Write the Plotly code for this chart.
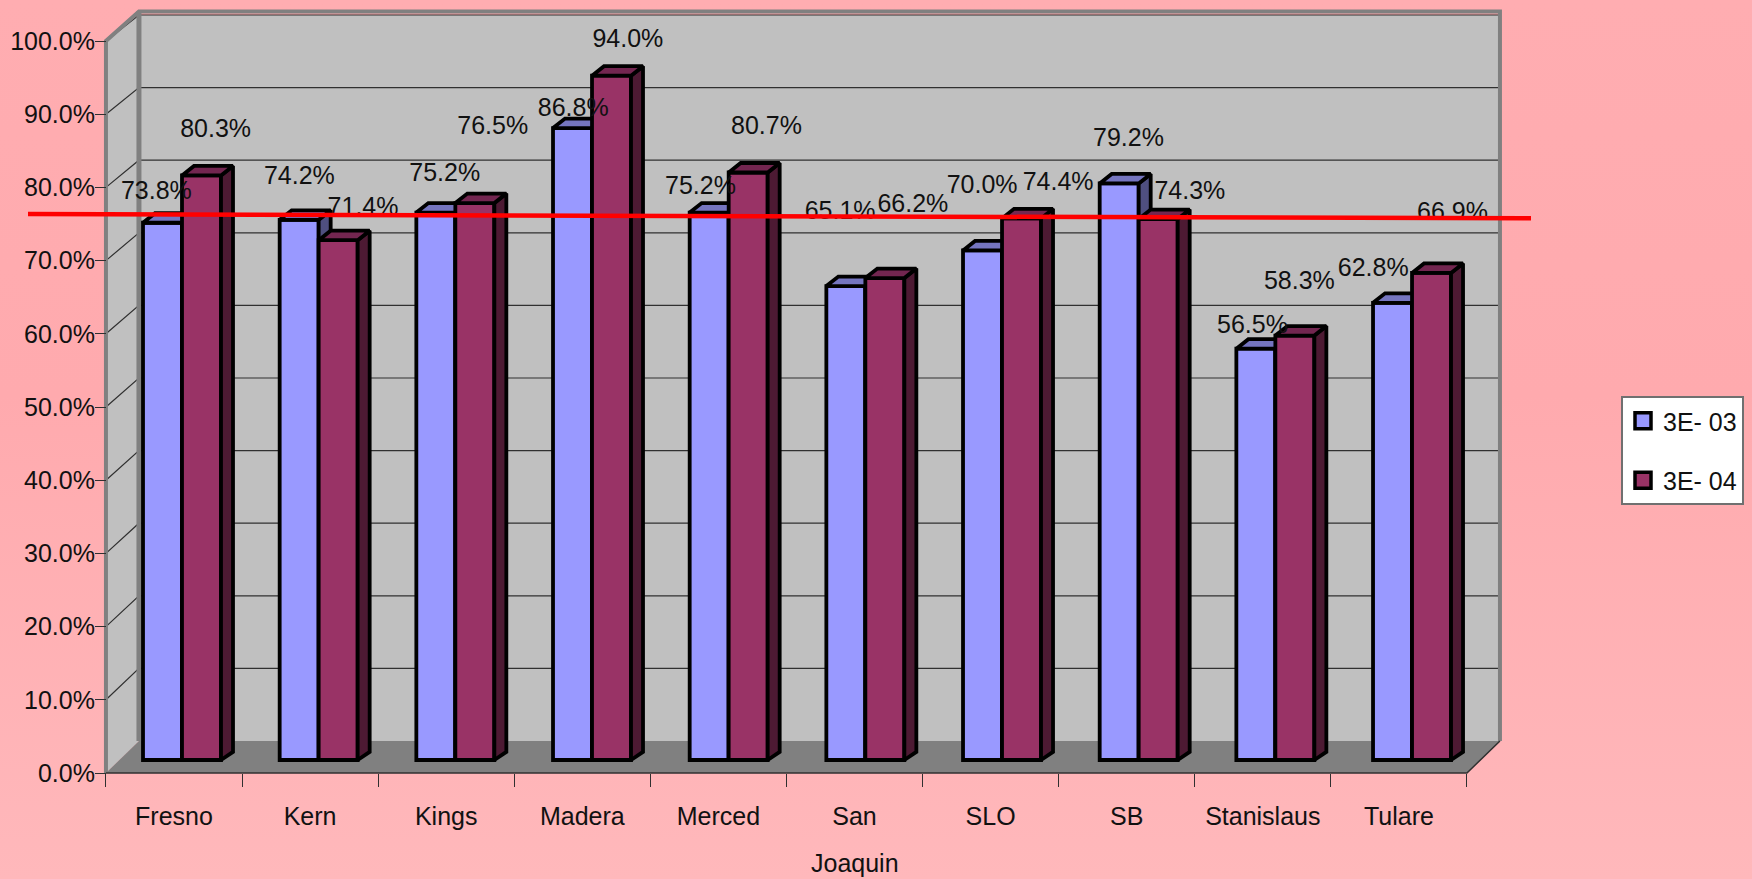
import plotly.graph_objects as go

categories = ["Fresno", "Kern", "Kings", "Madera", "Merced", "San", "SLO", "SB", "Stanislaus", "Tulare"]
series_03 = [73.8, 74.2, 75.2, 86.8, 75.2, 65.1, 70.0, 79.2, 56.5, 62.8]
series_04 = [80.3, 71.4, 76.5, 94.0, 80.7, 66.2, 74.4, 74.3, 58.3, 66.9]
target_line = [75.0, 74.4]
y_ticks = [0, 10, 20, 30, 40, 50, 60, 70, 80, 90, 100]

# label offsets from the group centre / bar top, in pixels
label_dx_03 = [-25.6, -19.3, -10.6, -18.8, -28.2, -25.2, -19.9, -10.2, -22.9, -38.8]
label_dy_03 = [33.9, 45.5, 41.5, 22, 28.1, 77.2, 67.2, 47.1, 25.8, 36.9]
label_dx_04 = [33.6, 44.4, 37.4, 35.9, 37.8, 47.5, 56.1, 51.2, 24, 40.5]
label_dy_04 = [48, 34.6, 79, 38.8, 48.5, 75.9, 38.5, 30.3, 56.3, 63]
LABEL_NUDGE = -3.5

W, H = 1752, 879
FONT = "Liberation Sans, Arial, sans-serif"
FS = 25

# main (frame) axes: category scale and percent scale of the front plane
FX, FY = 136.1, 7.32          # px per category, px per percent
X0PX, Y0PX = 174.0, 773.0     # px of category 0 and of 0 %
main_x = [(0 - X0PX) / FX, (W - X0PX) / FX]
main_y = [(Y0PX - H) / FY, Y0PX / FY]
# bar axes: bars stand on the raised floor row
BX, BY = 136.67, 7.28
BX0, BY0 = 182.0, 760.0
bar_x = [(0 - BX0) / BX, (W - BX0) / BX]
bar_y = [(BY0 - H) / BY, BY0 / BY]

DX = 33 / FX                  # depth of the walls
def back_y(t):
    return (Y0PX - (741 - 7.26 * t)) / FY
XL, XR = -0.5, 9.5
XBL, XBR = XL + DX, XR + DX
TOP = 100

fig = go.Figure()
NOH = dict(hoverinfo="skip", showlegend=False)

# page background
fig.add_trace(go.Scatter(x=[main_x[0], main_x[1], main_x[1], main_x[0], main_x[0]],
                         y=[main_y[0], main_y[0], main_y[1], main_y[1], main_y[0]],
                         mode="none", fill="toself",
                         fillgradient=dict(type="vertical", colorscale=[[0, "#FFB8BB"], [0.55, "#FFAAAE"], [1, "#FFADB1"]]),
                         **NOH))
# walls and floor
fig.add_trace(go.Scatter(x=[XBL, XBR, XBR, XBL, XBL], y=[back_y(0), back_y(0), back_y(TOP), back_y(TOP), back_y(0)],
                         mode="none", fill="toself", fillcolor="#C0C0C0", **NOH))
fig.add_trace(go.Scatter(x=[XL, XBL, XBL, XL, XL], y=[0, back_y(0), back_y(TOP), TOP, 0],
                         mode="none", fill="toself", fillcolor="#C0C0C0", **NOH))
fig.add_trace(go.Scatter(x=[XL, XR, XBR, XBL, XL], y=[0, 0, back_y(0), back_y(0), 0],
                         mode="none", fill="toself", fillcolor="#808080", **NOH))
# gridlines
gx, gy = [], []
for t in y_ticks[1:]:
    gx += [XL, XBL, XBR, None]
    gy += [t, back_y(t), back_y(t), None]
fig.add_trace(go.Scatter(x=gx, y=gy, mode="lines", line=dict(color="#303030", width=1.2), **NOH))
# frame edges
top_edge = back_y(TOP) + 3.5 / FY
fig.add_trace(go.Scatter(x=[XL, XL, XBL, XBR, XBR], y=[0, TOP, top_edge, top_edge, back_y(0)],
                         mode="lines", line=dict(color="#808080", width=4), **NOH))
fig.add_trace(go.Scatter(x=[XBL, XBL], y=[back_y(0), top_edge], mode="lines", line=dict(color="#808080", width=5), **NOH))
fig.add_trace(go.Scatter(x=[XL, XR, XBR], y=[0, 0, back_y(0)], mode="lines", line=dict(color="#303030", width=1.5), **NOH))

BW = 39 / BX
SX = 12 / BX
SY = 9.5 / BY
EDGE = 3.8

def faces(vals, left):
    tx, ty, sx, sy = [], [], [], []
    for i, v in enumerate(vals):
        a, b = i + left, i + left + BW
        tx += [a, a + SX, b + SX, b, a, None]
        ty += [v, v + SY, v + SY, v, v, None]
        sx += [b, b + SX, b + SX, b, b, None]
        sy += [0, SY * 0.85, v + SY, v, 0, None]
    return tx, ty, sx, sy

for name, vals, left, front, top, side, xa, ya in [
    ("3E- 03", series_03, -BW, "#9999FF", "#7575C0", "#4F4F80", "x2", "y2"),
    ("3E- 04", series_04, 0.0, "#993366", "#732650", "#4D1A33", "x3", "y3"),
]:
    fig.add_trace(go.Bar(x=list(range(len(categories))), y=vals, name=name, width=BW, offset=left,
                         marker=dict(color=front, line=dict(color="black", width=EDGE)),
                         xaxis=xa, yaxis=ya, legendgroup=name, showlegend=False,
                         customdata=categories, hovertemplate="%{customdata}: %{y:.1f}%<extra>" + name + "</extra>"))
    tx, ty, sx, sy = faces(vals, left)
    fig.add_trace(go.Scatter(x=sx, y=sy, mode="lines", fill="toself", fillcolor=side,
                             line=dict(color="black", width=EDGE), xaxis=xa, yaxis=ya, **NOH))
    fig.add_trace(go.Scatter(x=tx, y=ty, mode="lines", fill="toself", fillcolor=top,
                             line=dict(color="black", width=EDGE), xaxis=xa, yaxis=ya, **NOH))
    # legend key, same colours as the bars, at the reference's larger key size
    fig.add_trace(go.Scatter(x=[None], y=[None], name=name, mode="markers", legendgroup=name,
                             marker=dict(symbol="square", size=16, color=front, line=dict(color="black", width=3.5)),
                             xaxis=xa, yaxis=ya, hoverinfo="skip"))

# data labels
for vals, dxs, dys in [(series_03, label_dx_03, label_dy_03), (series_04, label_dx_04, label_dy_04)]:
    fig.add_trace(go.Scatter(x=[i + d / BX for i, d in enumerate(dxs)],
                             y=[v + (d + LABEL_NUDGE) / BY for v, d in zip(vals, dys)],
                             text=[f"{v:.1f}%" for v in vals], mode="text", textposition="middle center",
                             textfont=dict(family=FONT, size=FS, color="#111111"), cliponaxis=False,
                             xaxis="x3", yaxis="y3", **NOH))
# target line
fig.add_trace(go.Scatter(x=[(28 - BX0) / BX, (1531 - BX0) / BX], y=target_line, mode="lines",
                         line=dict(color="#FF0000", width=4.5), xaxis="x3", yaxis="y3", **NOH))

hidden = dict(visible=False, fixedrange=True)
fig.update_layout(
    width=W, height=H, autosize=False,
    margin=dict(l=0, r=0, t=0, b=0, pad=0),
    paper_bgcolor="#FFB0B4", plot_bgcolor="rgba(0,0,0,0)",
    barmode="overlay", showlegend=True,
    font=dict(family=FONT, size=FS, color="#111111"),
    xaxis=dict(range=main_x, anchor="free", position=(H - Y0PX) / H, showgrid=False, zeroline=False, showline=False,
               tickmode="array", tickvals=list(range(len(categories))), ticktext=categories, tickangle=0,
               ticks="outside", ticklen=21, tickcolor="rgba(0,0,0,0)",
               minor=dict(tickmode="array", tickvals=[i - 0.5 for i in range(len(categories) + 1)], ticks="outside",
                          ticklen=13, tickwidth=1.2, tickcolor="#303030", showgrid=False),
               tickfont=dict(family=FONT, size=FS, color="#111111"), fixedrange=True),
    yaxis=dict(range=main_y, anchor="free", position=(X0PX - 0.5 * FX) / W, showgrid=False, zeroline=False, showline=False,
               tickmode="array", tickvals=y_ticks, ticktext=[f"{t:.1f}%" for t in y_ticks],
               ticks="outside", ticklen=11, tickwidth=1.2, tickcolor="#303030", ticklabelstandoff=-5,
               tickfont=dict(family=FONT, size=FS, color="#111111"), fixedrange=True),
    xaxis2=dict(range=bar_x, overlaying="x", **hidden),
    yaxis2=dict(range=bar_y, overlaying="y", **hidden),
    xaxis3=dict(range=bar_x, overlaying="x", **hidden),
    yaxis3=dict(range=bar_y, overlaying="y", **hidden),
    legend=dict(x=1621 / W, y=1 - 396 / H, xanchor="left", yanchor="top", bgcolor="white",
                bordercolor="#707070", borderwidth=2, font=dict(family=FONT, size=FS, color="#111111"),
                traceorder="grouped", tracegroupgap=24, entrywidth=88, entrywidthmode="pixels",
                itemclick=False, itemdoubleclick=False),
    annotations=[dict(x=5, y=(Y0PX - 863) / FY, xref="x", yref="y", text="Joaquin", showarrow=False,
                      font=dict(family=FONT, size=FS, color="#111111"))],
)
fig.write_html("out.html", config=dict(displayModeBar=False),
               post_script="document.body.style.margin='0';document.documentElement.style.overflow='hidden';")
